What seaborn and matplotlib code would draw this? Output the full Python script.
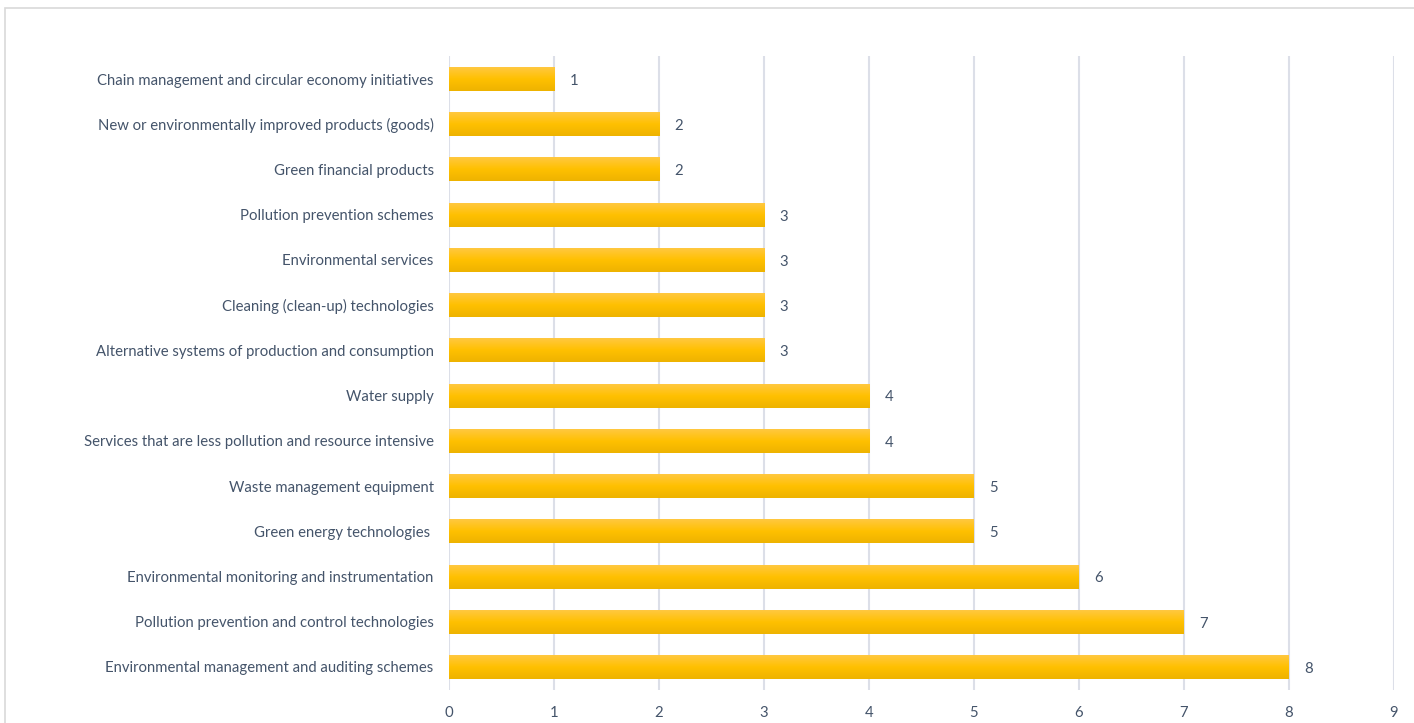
import numpy as np
import pandas as pd
import matplotlib
matplotlib.use("Agg")
import matplotlib.pyplot as plt
import seaborn as sns
from matplotlib.patches import Rectangle
from matplotlib.colors import LinearSegmentedColormap

categories = [
    "Chain management and circular economy initiatives",
    "New or environmentally improved products (goods)",
    "Green financial products",
    "Pollution prevention schemes",
    "Environmental services",
    "Cleaning (clean-up) technologies",
    "Alternative systems of production and consumption",
    "Water supply",
    "Services that are less pollution and resource intensive",
    "Waste management equipment",
    "Green energy technologies ",
    "Environmental monitoring and instrumentation",
    "Pollution prevention and control technologies",
    "Environmental management and auditing schemes",
]
values = [1, 2, 2, 3, 3, 3, 3, 4, 4, 5, 5, 6, 7, 8]
x_ticks = [0, 1, 2, 3, 4, 5, 6, 7, 8, 9]

df = pd.DataFrame({"category": categories, "value": values})

sns.set_theme(style="white")
plt.rcParams["font.family"] = ["Lato", "DejaVu Sans"]
text_color = "#44546A"

fig = plt.figure(figsize=(14.14, 7.23), dpi=100)
ax = fig.add_axes([449 / 1414, 1 - 689.6 / 723, (1394 - 449) / 1414, (689.6 - 56.4) / 723])

sns.barplot(data=df, x="value", y="category", orient="h", color="#FFC000",
            width=0.53, ax=ax, zorder=3)

ax.set_xlim(0, 9)
ax.set_ylim(len(categories) - 0.5, -0.5)
ax.set_xticks(x_ticks)
ax.set_xticklabels([str(t) for t in x_ticks])
ax.grid(axis="x", color="#DCDFE8", linewidth=1.5, zorder=0)
ax.set_axisbelow(True)
for s in ax.spines.values():
    s.set_visible(False)
ax.set_xlabel("")
ax.set_ylabel("")
ax.tick_params(axis="x", length=0, pad=12, labelsize=10.7, labelcolor=text_color)
ax.tick_params(axis="y", length=0, pad=11, labelsize=10.7, labelcolor=text_color)

# gradient fill on bars
cmap = LinearSegmentedColormap.from_list("g", ["#FFC840", "#FFC000", "#EEB300"])
grad = np.linspace(0, 1, 64).reshape(-1, 1)
for p in list(ax.patches):
    x0, y0 = p.get_x(), p.get_y()
    w, h = p.get_width(), p.get_height()
    im = ax.imshow(grad, cmap=cmap, aspect="auto", extent=[x0, x0 + w, y0 + h, y0],
                   origin="upper", zorder=3.5, interpolation="bilinear")
    im.set_clip_path(p)
    p.set_edgecolor("none")

for i, v in enumerate(values):
    ax.annotate(str(v), xy=(v, i), xytext=(14.4, -1.3), textcoords="offset points",
                ha="center", va="center", fontsize=10.7, color=text_color)

ax.set_xlim(0, 9)
ax.set_ylim(len(categories) - 0.5, -0.5)

# outer chart border
fig.patches.append(Rectangle((5 / 1414, -0.05), 1.2, 1 - 8 / 723 + 0.05,
                             transform=fig.transFigure, fill=False,
                             edgecolor="#D9D9D9", linewidth=1.2, zorder=0))

fig.savefig("out.png", dpi=100)
